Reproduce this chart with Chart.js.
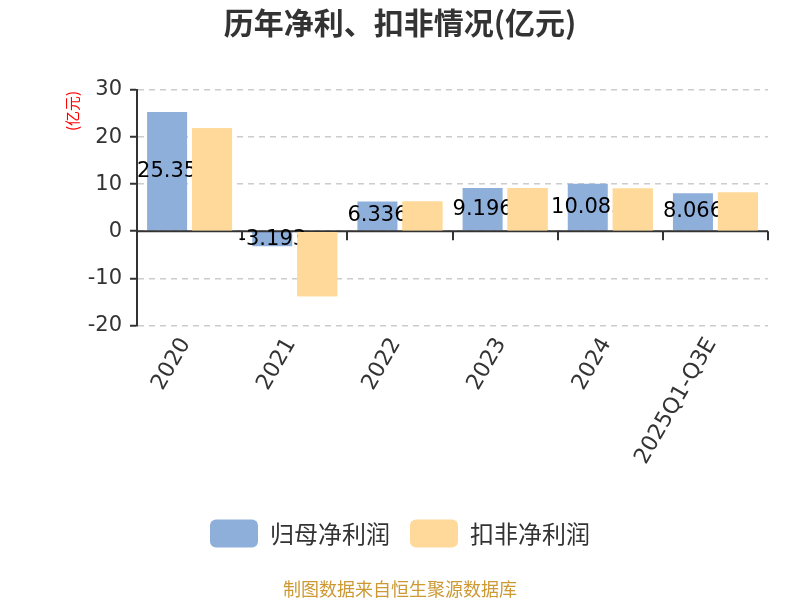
<!DOCTYPE html>
<html>
<head>
  <meta charset="UTF-8" />
  <title>历年净利、扣非情况(亿元)</title>
  <script src="https://cdn.jsdelivr.net/npm/chart.js"></script>
  <style>
    html, body { margin: 0; padding: 0; background: #fff; }
    #wrap { width: 800px; height: 600px; }
  </style>
</head>
<body>
<div id="wrap"><canvas id="profitChart" width="800" height="600"></canvas></div>

<script>
  // data
  const years = ['2020', '2021', '2022', '2023', '2024', '2025Q1-Q3E'];
  const netProfit = [25.35, -3.193, 6.336, 9.196, 10.083, 8.066];     // 归母净利润 (last digit of 2024 hidden, estimated)
  const deductedProfit = [21.9, -13.8, 6.34, 9.2, 9.09, 8.23];        // 扣非净利润 (estimated)
  const yTicks = [-20, -10, 0, 10, 20, 30];

  const NUM = '"DejaVu Sans", "Noto Sans", sans-serif';
  const CJK = '"Noto Sans CJK SC", "Noto Sans", sans-serif';

  // zero line with category ticks, y-axis unit, value labels
  const extras = {
    id: 'extras',
    afterDatasetsDraw(chart) {
      const ctx = chart.ctx;
      const y = chart.scales.y;
      const area = chart.chartArea;
      const y0 = y.getPixelForValue(0);
      const step = (area.right - area.left) / years.length;

      ctx.save();
      ctx.strokeStyle = '#333';
      ctx.lineWidth = 2;
      ctx.beginPath();
      ctx.moveTo(area.left, y0);
      ctx.lineTo(area.right, y0);
      for (let i = 0; i <= years.length; i++) {
        const px = Math.round(area.left + i * step);
        ctx.moveTo(px, y0);
        ctx.lineTo(px, y0 + 9);
      }
      ctx.stroke();

      // labels on the blue bars, partly covered by the orange ones
      ctx.fillStyle = '#000';
      ctx.font = '21px ' + NUM;
      ctx.textAlign = 'center';
      ctx.textBaseline = 'middle';
      chart.getDatasetMeta(0).data.forEach((bar, i) => {
        ctx.fillText(String(netProfit[i]), bar.x, (bar.y + bar.base) / 2);
      });
      ctx.restore();
      chart.getDatasetMeta(1).data.forEach(el => el.draw(ctx, area));

      // unit label
      ctx.save();
      ctx.translate(72, 111);
      ctx.rotate(-Math.PI / 2);
      ctx.fillStyle = '#ff0000';
      ctx.font = '15px ' + CJK;
      ctx.textAlign = 'center';
      ctx.textBaseline = 'middle';
      ctx.fillText('(亿元)', 0, 0);
      ctx.restore();
    }
  };

  const ctx = document.getElementById('profitChart').getContext('2d');
  const chart = new Chart(ctx, {
    type: 'bar',
    data: {
      labels: years,
      datasets: [
        {
          label: '归母净利润',
          data: netProfit,
          backgroundColor: '#8fafdb',
          borderWidth: 0
        },
        {
          label: '扣非净利润',
          data: deductedProfit,
          backgroundColor: '#ffd999',
          borderWidth: 0
        }
      ]
    },
    options: {
      responsive: false,
      animation: false,
      categoryPercentage: 0.855,
      barPercentage: 0.89,
      layout: { padding: { left: 32, right: 32, top: 0, bottom: 0 } },
      scales: {
        x: {
          grid: { display: false, drawTicks: false },
          border: { display: false },
          ticks: {
            color: '#333',
            font: { size: 22, family: NUM },
            minRotation: 60,
            maxRotation: 60,
            labelOffset: -4,
            padding: 8
          },
          afterFit(scale) { scale.height = 174; }
        },
        y: {
          min: -20,
          max: 30,
          afterBuildTicks(scale) { scale.ticks = yTicks.map(v => ({ value: v })); },
          grid: {
            color: '#cccccc',
            lineWidth: 1.5,
            tickColor: '#333',
            tickLength: 7,
            tickWidth: 2
          },
          border: { display: true, color: '#333', width: 2, dash: [6, 5] },
          ticks: {
            color: '#333',
            font: { size: 21, family: NUM },
            padding: 8
          },
          afterFit(scale) { scale.width = 105; }
        }
      },
      plugins: {
        title: {
          display: true,
          text: '历年净利、扣非情况(亿元)',
          color: '#333',
          font: { size: 30, weight: 'bold', family: CJK },
          padding: { top: 5, bottom: 49 }
        },
        subtitle: {
          display: true,
          position: 'bottom',
          text: '制图数据来自恒生聚源数据库',
          color: '#cc9933',
          font: { size: 18, family: CJK },
          padding: { top: 21, bottom: 0 }
        },
        legend: {
          position: 'bottom',
          labels: {
            color: '#333',
            font: { size: 24, family: CJK },
            boxWidth: 48,
            boxHeight: 28,
            useBorderRadius: true,
            borderRadius: 6,
            padding: 20
          }
        },
        tooltip: { enabled: false }
      }
    },
    plugins: [extras]
  });
</script>
</body>
</html>
